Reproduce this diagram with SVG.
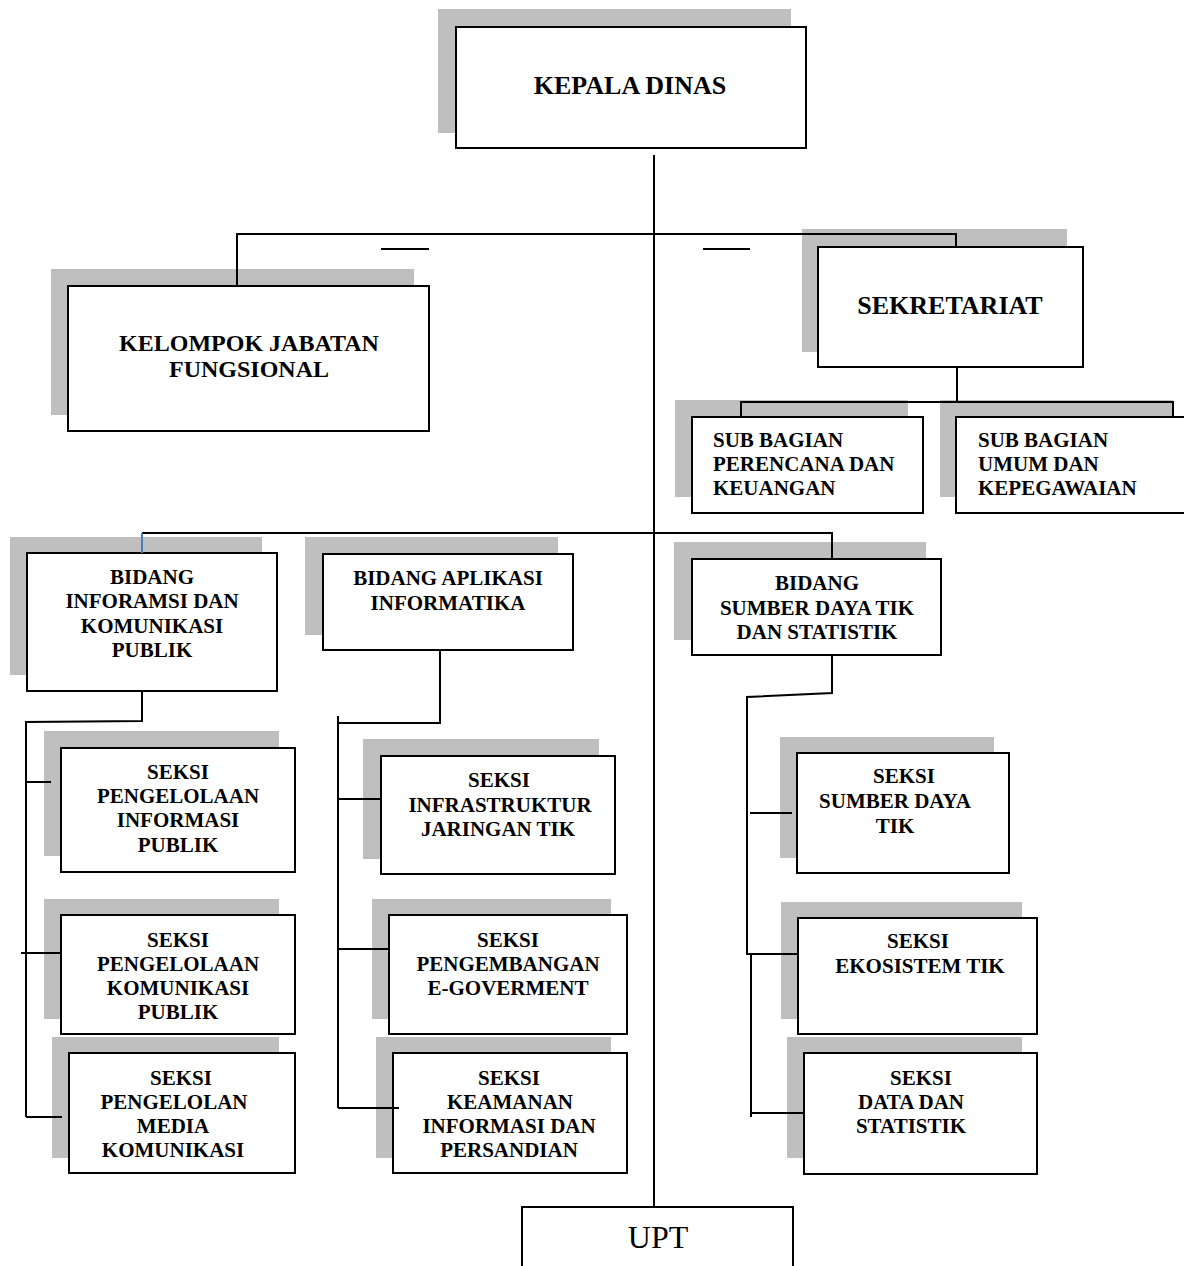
<svg xmlns="http://www.w3.org/2000/svg" width="1184" height="1266" viewBox="0 0 1184 1266">
<style>
.sh{fill:#bfbfbf}
.bx{fill:#fff;stroke:#000;stroke-width:2}
.t{font-family:"Liberation Serif","Times New Roman",serif;font-weight:bold;font-size:21px;fill:#000;text-anchor:middle}
.tl{text-anchor:start}
.big{font-size:26px}
.mid{font-size:24px}
.reg{font-family:"Liberation Serif","Times New Roman",serif;font-size:32px;fill:#000;text-anchor:middle}
.ln{fill:none;stroke:#000;stroke-width:2}
</style>
<rect width="1184" height="1266" fill="#fff"/>

<g id="kepala-dinas">
<rect class="sh" x="438" y="9" width="353" height="124"/>
<rect class="bx" x="456" y="27" width="350" height="121"/>
<text class="t big" x="630" y="94">KEPALA DINAS</text>
</g>

<g id="kelompok-jabatan-fungsional">
<rect class="sh" x="51" y="269" width="363" height="146"/>
<rect class="bx" x="68" y="286" width="361" height="145"/>
<text class="t mid" x="249" y="351">KELOMPOK JABATAN</text>
<text class="t mid" x="249" y="377">FUNGSIONAL</text>
</g>

<g id="sekretariat">
<rect class="sh" x="802" y="229" width="265" height="123"/>
<rect class="bx" x="818" y="247" width="265" height="120"/>
<text class="t big" x="950" y="314">SEKRETARIAT</text>
</g>

<g id="sub-bagian-perencana">
<rect class="sh" x="675" y="400" width="233" height="97"/>
<rect class="bx" x="692" y="417" width="231" height="96"/>
<text class="t tl" x="713" y="447">SUB BAGIAN</text>
<text class="t tl" x="713" y="471">PERENCANA DAN</text>
<text class="t tl" x="713" y="495">KEUANGAN</text>
</g>

<g id="sub-bagian-umum">
<rect class="sh" x="940" y="400" width="233" height="97"/>
<rect class="bx" x="956" y="417" width="240" height="96"/>
<text class="t tl" x="978" y="447">SUB BAGIAN</text>
<text class="t tl" x="978" y="471">UMUM DAN</text>
<text class="t tl" x="978" y="495">KEPEGAWAIAN</text>
</g>

<g id="bidang-ikp">
<rect class="sh" x="10" y="537" width="252" height="138"/>
<rect class="bx" x="27" y="553" width="250" height="138"/>
<text class="t" x="152" y="584">BIDANG</text>
<text class="t" x="152" y="608">INFORAMSI DAN</text>
<text class="t" x="152" y="633">KOMUNIKASI</text>
<text class="t" x="152" y="657">PUBLIK</text>
</g>

<g id="bidang-aplikasi">
<rect class="sh" x="305" y="537" width="253" height="98"/>
<rect class="bx" x="323" y="554" width="250" height="96"/>
<text class="t" x="448" y="585">BIDANG APLIKASI</text>
<text class="t" x="448" y="610">INFORMATIKA</text>
</g>

<g id="bidang-sumber-daya">
<rect class="sh" x="674" y="542" width="252" height="98"/>
<rect class="bx" x="692" y="559" width="249" height="96"/>
<text class="t" x="817" y="590">BIDANG</text>
<text class="t" x="817" y="615">SUMBER DAYA TIK</text>
<text class="t" x="817" y="639">DAN STATISTIK</text>
</g>

<g id="seksi-informasi-publik">
<rect class="sh" x="44" y="731" width="235" height="125"/>
<rect class="bx" x="61" y="748" width="234" height="124"/>
<text class="t" x="178" y="779">SEKSI</text>
<text class="t" x="178" y="803">PENGELOLAAN</text>
<text class="t" x="178" y="827">INFORMASI</text>
<text class="t" x="178" y="852">PUBLIK</text>
</g>

<g id="seksi-komunikasi-publik">
<rect class="sh" x="44" y="899" width="235" height="120"/>
<rect class="bx" x="61" y="915" width="234" height="119"/>
<text class="t" x="178" y="947">SEKSI</text>
<text class="t" x="178" y="971">PENGELOLAAN</text>
<text class="t" x="178" y="995">KOMUNIKASI</text>
<text class="t" x="178" y="1019">PUBLIK</text>
</g>

<g id="seksi-media-komunikasi">
<rect class="sh" x="52" y="1037" width="227" height="121"/>
<rect class="bx" x="69" y="1053" width="226" height="120"/>
<text class="t" x="181" y="1085">SEKSI</text>
<text class="t" x="174" y="1109">PENGELOLAN</text>
<text class="t" x="173" y="1133">MEDIA</text>
<text class="t" x="173" y="1157">KOMUNIKASI</text>
</g>

<g id="seksi-infrastruktur">
<rect class="sh" x="363" y="739" width="236" height="120"/>
<rect class="bx" x="381" y="756" width="234" height="118"/>
<text class="t" x="499" y="787">SEKSI</text>
<text class="t" x="500" y="812">INFRASTRUKTUR</text>
<text class="t" x="498" y="836">JARINGAN TIK</text>
</g>

<g id="seksi-egovernment">
<rect class="sh" x="372" y="899" width="239" height="120"/>
<rect class="bx" x="389" y="915" width="238" height="119"/>
<text class="t" x="508" y="947">SEKSI</text>
<text class="t" x="508" y="971">PENGEMBANGAN</text>
<text class="t" x="508" y="995">E-GOVERMENT</text>
</g>

<g id="seksi-keamanan">
<rect class="sh" x="376" y="1037" width="235" height="121"/>
<rect class="bx" x="393" y="1053" width="234" height="120"/>
<text class="t" x="509" y="1085">SEKSI</text>
<text class="t" x="510" y="1109">KEAMANAN</text>
<text class="t" x="509" y="1133">INFORMASI DAN</text>
<text class="t" x="509" y="1157">PERSANDIAN</text>
</g>

<g id="seksi-sumber-daya-tik">
<rect class="sh" x="780" y="737" width="214" height="121"/>
<rect class="bx" x="797" y="753" width="212" height="120"/>
<text class="t" x="904" y="783">SEKSI</text>
<text class="t" x="895" y="808">SUMBER DAYA</text>
<text class="t" x="895" y="833">TIK</text>
</g>

<g id="seksi-ekosistem-tik">
<rect class="sh" x="781" y="902" width="241" height="117"/>
<rect class="bx" x="798" y="918" width="239" height="116"/>
<text class="t" x="918" y="948">SEKSI</text>
<text class="t" x="920" y="973">EKOSISTEM TIK</text>
</g>

<g id="seksi-data-statistik">
<rect class="sh" x="787" y="1037" width="235" height="121"/>
<rect class="bx" x="804" y="1053" width="233" height="121"/>
<text class="t" x="921" y="1085">SEKSI</text>
<text class="t" x="911" y="1109">DATA DAN</text>
<text class="t" x="911" y="1133">STATISTIK</text>
</g>

<g id="upt">
<rect class="bx" x="522" y="1207" width="271" height="70"/>
<text class="reg" x="658" y="1248">UPT</text>
</g>

<g id="connectors">
<path class="ln" d="M654 155 V1207"/>
<path class="ln" d="M237 286 V234 H956 V247"/>
<path class="ln" d="M381 249 H429"/>
<path class="ln" d="M703 249 H750"/>
<path class="ln" d="M957 367 V402"/>
<path class="ln" d="M741 417 V402 H1173 V417"/>
<path class="ln" d="M142 533 H832 V559"/>
<path fill="none" stroke="#4a7ebb" stroke-width="2" d="M142 533 V553"/>
<path class="ln" d="M142 691 V721 L26 722 V1117"/>
<path class="ln" d="M26 782 H51"/>
<path class="ln" d="M21 953 H61"/>
<path class="ln" d="M26 1117 H62"/>
<path class="ln" d="M440 650 V723 H338"/>
<path class="ln" d="M338 716 V1108"/>
<path class="ln" d="M338 799 H381"/>
<path class="ln" d="M338 949 H389"/>
<path class="ln" d="M338 1108 H399"/>
<path class="ln" d="M832 655 V693 L747 697 V954 H798"/>
<path class="ln" d="M751 954 V1117"/>
<path class="ln" d="M751 1113 H805"/>
<path class="ln" d="M750 813 H792"/>
</g>
</svg>
